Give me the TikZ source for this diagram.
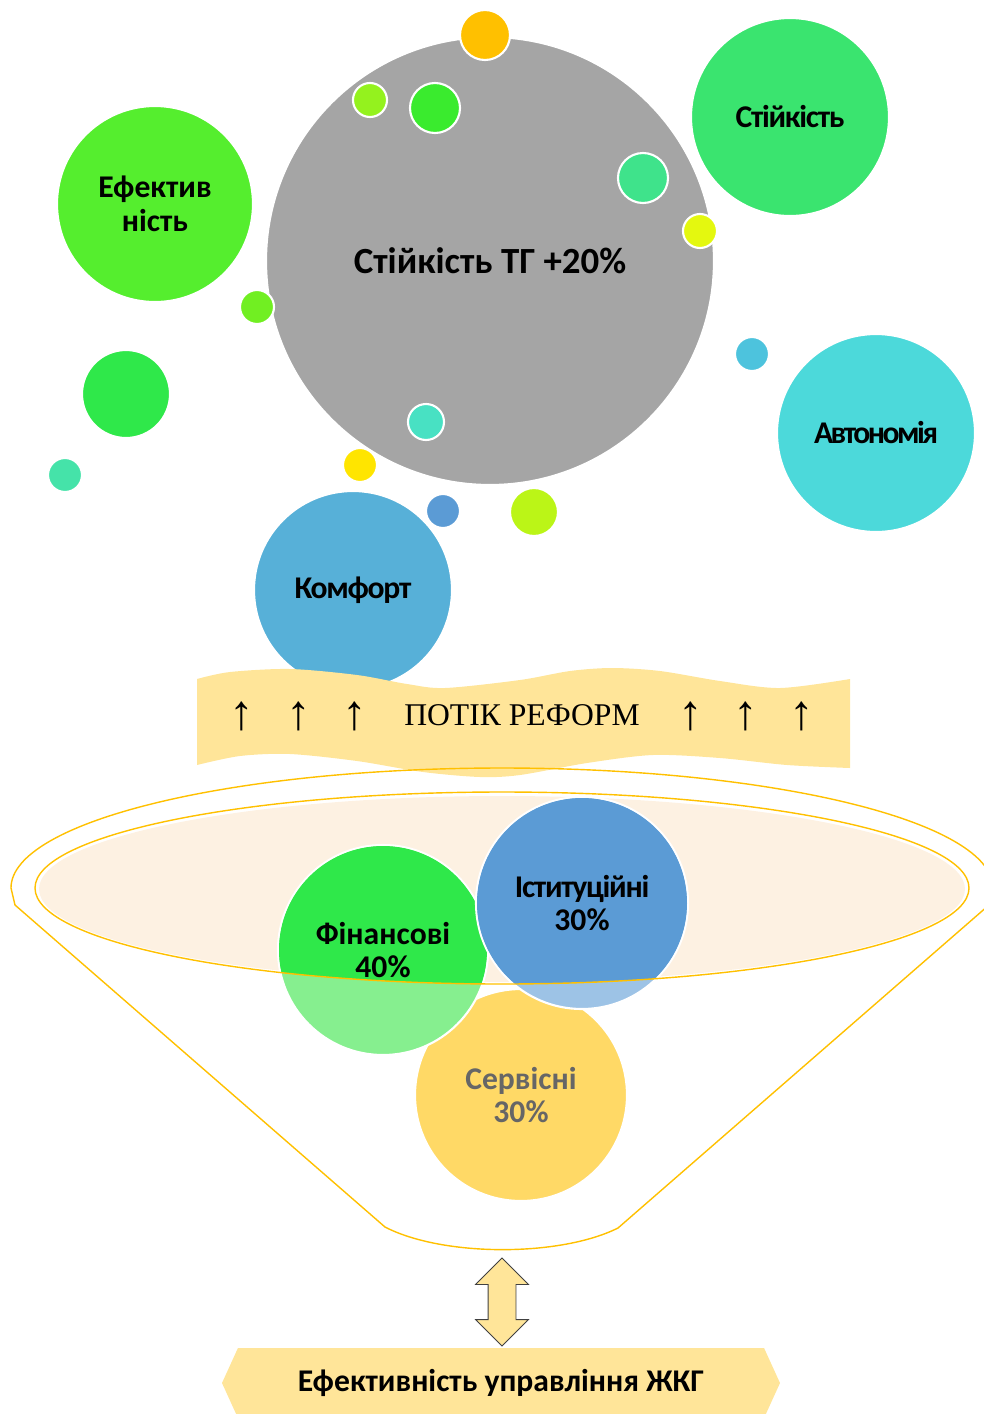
\documentclass[tikz,border=0pt]{standalone}
\usepackage{fontspec}
\setmainfont{Carlito}
\newfontfamily\timesfont{Liberation Serif}
\newfontfamily\tightfont{Carlito}[LetterSpace=-4]
\newfontfamily\tighterfont{Carlito}[LetterSpace=-8]
\usetikzlibrary{shapes.arrows,shapes.symbols}
\definecolor{tggray}{HTML}{A5A5A5}
\definecolor{effgreen}{HTML}{55EE2E}
\definecolor{stgreen}{HTML}{3AE46F}
\definecolor{autcyan}{HTML}{4CD9DA}
\definecolor{comfblue}{HTML}{57B0D8}
\definecolor{dotorange}{HTML}{FFC000}
\definecolor{dotlime}{HTML}{94F21E}
\definecolor{dotgreen}{HTML}{3AEB2E}
\definecolor{dotmint}{HTML}{3FE38B}
\definecolor{dotyellow}{HTML}{E4F80F}
\definecolor{dotleaf}{HTML}{71EF22}
\definecolor{dotteal}{HTML}{48E1C3}
\definecolor{dotsun}{HTML}{FFE500}
\definecolor{dotblue}{HTML}{5B9BD5}
\definecolor{dotchart}{HTML}{BBF517}
\definecolor{dotgrass}{HTML}{2FE84A}
\definecolor{dotsea}{HTML}{45E3A9}
\definecolor{dotsky}{HTML}{4DC3DD}
\definecolor{ribbon}{HTML}{FFE599}
\definecolor{funnelfill}{HTML}{FDF1E2}
\definecolor{rimgold}{HTML}{FFC000}
\definecolor{fingreen}{HTML}{2FE84A}
\definecolor{finlight}{HTML}{86EF8F}
\definecolor{istblue}{HTML}{5B9BD5}
\definecolor{istlight}{HTML}{9DC3E6}
\definecolor{servyellow}{HTML}{FFD966}
\definecolor{servtext}{HTML}{666666}
\definecolor{arrowgray}{HTML}{404040}
\newcommand{\pxu}{0.02cm}
\tikzset{
  bubble/.style={circle, draw=white, line width=1.2pt, inner sep=0pt,
    minimum size=2*#1*\pxu, align=center,
    font=\bfseries\fontsize{18}{19}\selectfont},
  bubtext/.style={align=center, font=\bfseries\fontsize{18}{19}\selectfont},
  rim/.style={draw=rimgold, line width=0.8pt},
  flowtext/.style={font=\timesfont\fontsize{18}{20}\selectfont},
  uparrow/.style={font=\timesfont\fontsize{28}{30}\selectfont}
}

\begin{document}
\begin{tikzpicture}[x=\pxu, y=-\pxu]
  \useasboundingbox (0,0) rectangle (984,1414);

  % Main bubble
  \node[bubble=224, fill=tggray, font=\bfseries\fontsize{21}{24}\selectfont] (tg) at (490,261) {Стійкість ТГ +20\%};

  % Labelled bubbles
  \node[bubble=98, fill=effgreen] (eff) at (155,204) {Ефектив\\ність};
  \node[bubble=99, fill=stgreen] (stiik) at (790,117) {\tightfont Стійкість};
  \node[bubble=99, fill=autcyan] (avt) at (876,433) {\tighterfont Автономія};
  \node[bubble=99, fill=comfblue] (komf) at (353,590) {\tightfont Комфорт};

  % Small dots
  \foreach \cx/\cy/\r/\col [count=\i] in {485/35/25/dotorange, 370/100/17/dotlime,
      435/108/25/dotgreen, 643/178/25/dotmint, 700/231/17/dotyellow,
      257/307/17/dotleaf, 426/422/18/dotteal, 360/465/17/dotsun,
      443/511/17/dotblue, 534/512/24/dotchart, 126/394/44/dotgrass,
      65/475/17/dotsea, 752/354/17/dotsky}
    \node[bubble=\r, fill=\col] (dot\i) at (\cx,\cy) {};

  % Flow of reforms (wave)
  \fill[ribbon] plot[smooth] coordinates {(197,679) (230,672) (290,669) (357,675)
      (407,684) (445,688) (520,680) (570,671) (612,668) (660,671) (720,681)
      (780,688) (850,679)}
    -- plot[smooth] coordinates {(850,768) (787,765) (720,758) (653,755)
      (587,763) (520,775) (480,777) (423,772) (357,761) (290,754) (240,756)
      (197,765)} -- cycle;
  \node[flowtext] (flow) at (522,715) {ПОТІК РЕФОРМ};
  \foreach \ax [count=\i] in {242,299,355,691,746,802}
    \node[uparrow] (up\i) at (\ax,716) {↑};

  % Funnel
  \fill[funnelfill] (502,889) ellipse[x radius=463, y radius=93];
  \draw[rim] (15,905) -- (11,888) arc[start angle=180, end angle=360, x radius=491, y radius=120]
    -- (989,905) -- (618,1228) .. controls (560,1257) and (443,1257) .. (385,1227) -- cycle;

  % Funnel bubbles
  \node[bubble=106, fill=servyellow] (serv) at (521,1095) {};
  \node[bubble=105, fill=finlight] (fin) at (383,950) {};
  \begin{scope}
    \clip (502,888) ellipse[x radius=467, y radius=96];
    \fill[fingreen] (fin.center) circle[radius=104];
  \end{scope}
  \node[bubble=106, fill=istlight] (ist) at (582,903) {};
  \begin{scope}
    \clip (502,888) ellipse[x radius=467, y radius=96];
    \fill[istblue] (ist.center) circle[radius=105];
  \end{scope}
  \draw[rim] (502,888) ellipse[x radius=467, y radius=96];
  \node[bubtext, text=servtext] (servtxt) at (serv) {Сервісні\\30\%};
  \node[bubtext] (fintxt) at (fin) {Фінансові\\40\%};
  \node[bubtext] (isttxt) at (ist) {\tightfont Іституційні\\30\%};

  % Link and result
  \node[double arrow, rotate=90, fill=ribbon, draw=arrowgray, line width=0.5pt,
    inner xsep=0pt, inner ysep=13.5*\pxu, minimum height=88*\pxu,
    double arrow head extend=12.5*\pxu] (link) at (502,1302) {};
  \node[signal, signal to=west and east, signal pointer angle=131, fill=ribbon,
    inner sep=0pt, minimum width=558*\pxu, minimum height=70*\pxu,
    font=\bfseries\fontsize{18}{19}\selectfont] (result) at (501,1383) {Ефективність управління ЖКГ};
\end{tikzpicture}
\end{document}
